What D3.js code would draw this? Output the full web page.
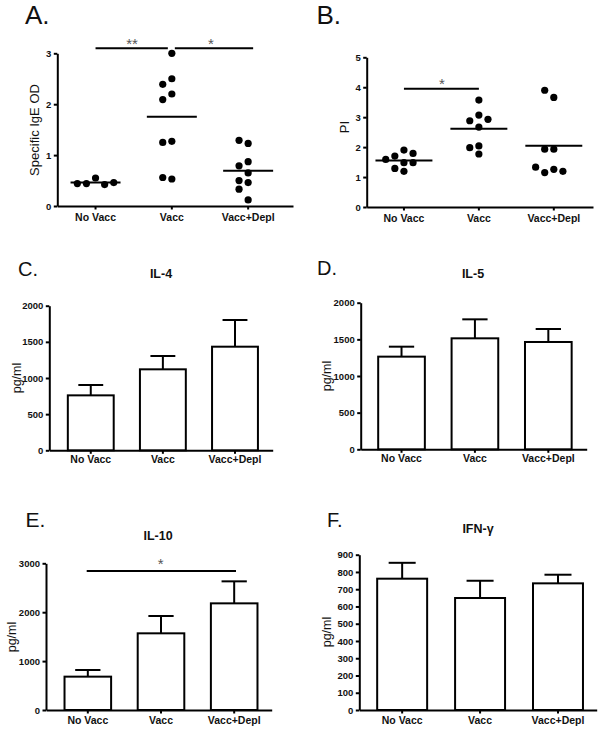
<!DOCTYPE html>
<html>
<head>
<meta charset="utf-8">
<script src="https://d3js.org/d3.v7.min.js"></script>
<style>
  body { margin: 0; background: #fff; }
  svg text { font-family: "Liberation Sans", Arial, sans-serif; fill: #111; }
</style>
</head>
<body>
<div id="figure"></div>
<script>
  const groups = ["No Vacc", "Vacc", "Vacc+Depl"];

  // A. specific IgE OD, one value per animal
  const igeNoVacc = [0.55, 0.44, 0.42, 0.44, 0.46];
  const igeVacc = [3.0, 2.5, 2.39, 2.2, 2.09, 1.27, 1.25, 0.53, 0.56];
  const igeDepl = [1.23, 1.29, 0.87, 0.79, 0.65, 0.46, 0.50, 0.33, 0.12];
  const igeTicks = [0, 1, 2, 3];

  // B. PI
  const piNoVacc = [1.90, 1.70, 1.79, 1.48, 1.59, 1.48, 1.19, 1.29];
  const piVacc = [3.57, 3.07, 2.88, 2.93, 2.67, 2.04, 1.98, 1.77];
  const piDepl = [3.66, 3.90, 1.93, 1.93, 1.26, 1.15, 1.19, 1.33];
  const piTicks = [0, 1, 2, 3, 4, 5];

  // C-F. cytokines, mean and SEM
  const il4Mean = [760, 1120, 1433];
  const il4Sem = [143, 184, 369];
  const il5Mean = [1264, 1514, 1464];
  const il5Sem = [136, 259, 177];
  const il10Mean = [682, 1568, 2181];
  const il10Sem = [136, 354, 450];
  const ifnMean = [761, 649, 734];
  const ifnSem = [92, 100, 50];
  const ilTicks = [0, 500, 1000, 1500, 2000];
  const il10Ticks = [0, 1000, 2000, 3000];
  const ifnTicks = [0, 100, 200, 300, 400, 500, 600, 700, 800, 900];

  const svg = d3.select("#figure").append("svg")
    .attr("width", 602)
    .attr("height", 732);

  function frame(p) {
    const g = svg.append("g");
    const x = d3.scaleBand().domain(groups)
      .range([p.left, p.right])
      .paddingInner(p.padIn).paddingOuter(p.padOut).align(p.align);
    const y = d3.scaleLinear().domain([0, p.ticks[p.ticks.length - 1]])
      .range([p.bottom, p.top]);

    g.append("g")
      .attr("transform", `translate(${p.left},0)`)
      .call(d3.axisLeft(y).tickValues(p.ticks).tickFormat(d3.format("d"))
        .tickSize(3.5).tickSizeOuter(0).tickPadding(2.5))
      .call(a => a.selectAll("path,line").attr("stroke", "#000").attr("stroke-width", 2))
      .call(a => a.selectAll("text").attr("font-size", 9.5).attr("font-weight", "bold")
        .attr("font-family", null).attr("fill", "#111"));

    g.append("g")
      .attr("transform", `translate(0,${p.bottom})`)
      .call(d3.axisBottom(x).tickSize(3.5).tickSizeOuter(0).tickPadding(p.xPad))
      .call(a => a.selectAll("path,line").attr("stroke", "#000").attr("stroke-width", 2))
      .call(a => a.selectAll("text").attr("font-size", 10.5).attr("font-weight", "bold")
        .attr("font-family", null).attr("fill", "#111"));

    g.append("text")
      .attr("transform", `translate(${p.yLabelX},${p.yLabelY}) rotate(-90)`)
      .attr("text-anchor", "middle")
      .attr("font-size", p.yLabelSize)
      .text(p.yLabel);

    g.append("text")
      .attr("x", p.letterX).attr("y", p.letterY)
      .attr("font-size", p.letterSize)
      .text(p.letter);

    if (p.title) {
      g.append("text")
        .attr("x", p.titleX).attr("y", p.titleY)
        .attr("text-anchor", "middle")
        .attr("font-size", 12.5).attr("font-weight", "bold")
        .text(p.title);
    }
    return { g, x, y };
  }

  // simple column swarm like GraphPad scatter
  function swarm(values, y, r, step) {
    const placed = [];
    values.forEach(v => {
      const py = y(v);
      for (let k = 0; k < 20; k++) {
        const col = k === 0 ? 0 : (k % 2 ? -Math.ceil(k / 2) : k / 2);
        if (!placed.some(q => q.col === col && Math.abs(q.y - py) < 2 * r + 0.4)) {
          placed.push({ v, y: py, col, dx: col * step });
          break;
        }
      }
    });
    return placed;
  }

  function sigBar(g, y, x1, x2, stars, starX, starDy) {
    g.append("line")
      .attr("x1", x1).attr("x2", x2).attr("y1", y).attr("y2", y)
      .attr("stroke", "#000").attr("stroke-width", 2);
    g.append("text")
      .attr("x", starX).attr("y", y + starDy)
      .attr("text-anchor", "middle")
      .attr("font-size", 15)
      .style("fill", "#555")
      .text(stars);
  }

  function dotPanel(p, series) {
    const { g, x, y } = frame(p);
    const r = 3.6;
    series.forEach((vals, i) => {
      const cx = x(groups[i]) + x.bandwidth() / 2;
      g.selectAll(null)
        .data(swarm(vals, y, r, 9.1))
        .join("circle")
        .attr("cx", d => cx + d.dx)
        .attr("cy", d => d.y)
        .attr("r", r)
        .attr("fill", "#000");
      const m = d3.mean(vals);
      g.append("line")
        .attr("x1", x(groups[i])).attr("x2", x(groups[i]) + x.bandwidth())
        .attr("y1", y(m)).attr("y2", y(m))
        .attr("stroke", "#000").attr("stroke-width", 2);
    });
    return { g, x, y };
  }

  function barPanel(p, means, sems) {
    const { g, x, y } = frame(p);
    const bw = x.bandwidth();
    g.selectAll(null)
      .data(means)
      .join("line")
      .attr("x1", (d, i) => x(groups[i]) + bw / 2)
      .attr("x2", (d, i) => x(groups[i]) + bw / 2)
      .attr("y1", d => y(d))
      .attr("y2", (d, i) => y(d + sems[i]))
      .attr("stroke", "#000").attr("stroke-width", 2);
    g.selectAll(null)
      .data(means)
      .join("line")
      .attr("x1", (d, i) => x(groups[i]) + bw / 2 - bw * 0.26)
      .attr("x2", (d, i) => x(groups[i]) + bw / 2 + bw * 0.26)
      .attr("y1", (d, i) => y(d + sems[i]))
      .attr("y2", (d, i) => y(d + sems[i]))
      .attr("stroke", "#000").attr("stroke-width", 2);
    g.selectAll(null)
      .data(means)
      .join("rect")
      .attr("x", (d, i) => x(groups[i]) + 1)
      .attr("width", bw - 2)
      .attr("y", d => y(d))
      .attr("height", d => y(0) - y(d))
      .attr("fill", "#fff")
      .attr("stroke", "#000").attr("stroke-width", 2);
    return { g, x, y };
  }

  // A
  const A = dotPanel({
    left: 57.3, right: 293, top: 53.3, bottom: 206, ticks: igeTicks,
    padIn: 0.345, padOut: 0.217, align: 0.4, xPad: 4.5,
    yLabel: "Specific IgE OD", yLabelX: 39, yLabelY: 130, yLabelSize: 13,
    letter: "A.", letterX: 25, letterY: 24, letterSize: 26
  }, [igeNoVacc, igeVacc, igeDepl]);
  const ca = g => A.x(g) + A.x.bandwidth() / 2;
  sigBar(A.g, 48.3, ca("No Vacc"), ca("Vacc") - 4, "**", 132, 1);
  sigBar(A.g, 48.3, ca("Vacc") + 3, ca("Vacc+Depl") + 5, "*", 211, 1);

  // B
  const B = dotPanel({
    left: 366.7, right: 593, top: 57.3, bottom: 207, ticks: piTicks,
    padIn: 0.24, padOut: 0.13, align: 0.45, xPad: 4.5,
    yLabel: "PI", yLabelX: 349, yLabelY: 127, yLabelSize: 13,
    letter: "B.", letterX: 316.5, letterY: 23.5, letterSize: 26
  }, [piNoVacc, piVacc, piDepl]);
  const cb = g => B.x(g) + B.x.bandwidth() / 2;
  sigBar(B.g, 88.7, cb("No Vacc"), cb("Vacc"), "*", 442, 0);

  // C
  barPanel({
    left: 49.3, right: 272.7, top: 305.7, bottom: 450.3, ticks: ilTicks,
    padIn: 0.336, padOut: 0.217, align: 0.56, xPad: 2,
    yLabel: "pg/ml", yLabelX: 21, yLabelY: 378, yLabelSize: 12.5,
    letter: "C.", letterX: 18, letterY: 275.7, letterSize: 20,
    title: "IL-4", titleX: 161, titleY: 278.3
  }, il4Mean, il4Sem);

  // D
  barPanel({
    left: 360.7, right: 586.7, top: 302.7, bottom: 449.3, ticks: ilTicks,
    padIn: 0.337, padOut: 0.208, align: 0.54, xPad: 2,
    yLabel: "pg/ml", yLabelX: 331, yLabelY: 376, yLabelSize: 12.5,
    letter: "D.", letterX: 317, letterY: 275, letterSize: 20,
    title: "IL-5", titleX: 473, titleY: 278.3
  }, il5Mean, il5Sem);

  // E
  const E = barPanel({
    left: 46, right: 271.7, top: 563.3, bottom: 710, ticks: il10Ticks,
    padIn: 0.336, padOut: 0.21, align: 0.57, xPad: 3,
    yLabel: "pg/ml", yLabelX: 16, yLabelY: 637, yLabelSize: 12.5,
    letter: "E.", letterX: 25.5, letterY: 526.7, letterSize: 21,
    title: "IL-10", titleX: 158, titleY: 540
  }, il10Mean, il10Sem);
  sigBar(E.g, 571, 86.7, 236, "*", 160.7, -2.4);

  // F
  barPanel({
    left: 359.3, right: 596.7, top: 554.7, bottom: 710, ticks: ifnTicks,
    padIn: 0.333, padOut: 0.19, align: 0.57, xPad: 3,
    yLabel: "pg/ml", yLabelX: 331, yLabelY: 632, yLabelSize: 12.5,
    letter: "F.", letterX: 327, letterY: 526.7, letterSize: 20,
    title: "IFN-\u03b3", titleX: 478, titleY: 533
  }, ifnMean, ifnSem);
</script>
</body>
</html>
